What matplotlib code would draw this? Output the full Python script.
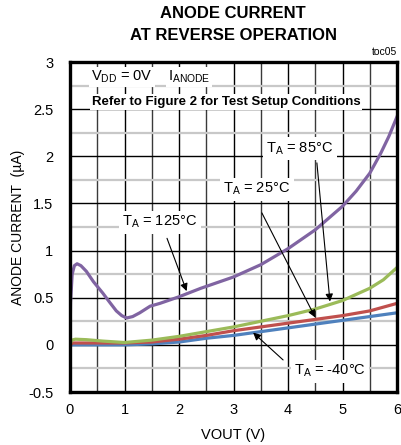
import matplotlib
matplotlib.use("Agg")
import matplotlib.pyplot as plt

plt.rcParams['font.family'] = ['Liberation Sans', 'DejaVu Sans']

# Anode current vs output voltage, one curve per ambient temperature
v_125 = [0, 0.01, 0.04, 0.08, 0.13, 0.2, 0.3, 0.43, 0.6, 0.73, 0.85, 0.95, 1.04, 1.15,
         1.28, 1.47, 1.65, 2.0, 2.4, 3.0, 3.5, 4.0, 4.5, 5.0, 5.25, 5.5, 5.7, 5.85, 6.0]
i_125 = [0, 0.45, 0.75, 0.84, 0.86, 0.84, 0.78, 0.67, 0.55, 0.45, 0.36, 0.31, 0.285, 0.30,
         0.34, 0.41, 0.44, 0.51, 0.60, 0.72, 0.85, 1.02, 1.22, 1.47, 1.63, 1.82, 2.03, 2.21, 2.42]

v_85 = [0, 0.03, 0.1, 0.3, 0.6, 1.0, 1.5, 2.0, 2.5, 3.0, 3.5, 4.0, 4.5, 5.0, 5.5, 5.75, 6.0]
i_85 = [0, 0.05, 0.06, 0.055, 0.04, 0.025, 0.05, 0.09, 0.14, 0.19, 0.25, 0.31, 0.38, 0.47,
        0.60, 0.69, 0.82]

v_25 = [0, 0.05, 0.5, 1.0, 1.5, 2.0, 2.5, 3.0, 3.5, 4.0, 4.5, 5.0, 5.5, 6.0]
i_25 = [0, 0.02, 0.02, 0.02, 0.03, 0.06, 0.10, 0.15, 0.19, 0.23, 0.27, 0.31, 0.36, 0.44]

v_m40 = [0, 0.5, 1.0, 1.5, 2.0, 2.5, 3.0, 3.5, 4.0, 4.5, 5.0, 5.5, 6.0]
i_m40 = [0, 0.0, 0.0, 0.01, 0.03, 0.07, 0.10, 0.14, 0.18, 0.22, 0.26, 0.30, 0.34]

x_ticks = [0, 1, 2, 3, 4, 5, 6]
y_ticks = [-0.5, 0, 0.5, 1, 1.5, 2, 2.5, 3]
y_tick_labels = ['-0.5', '0', '0.5', '1', '1.5', '2', '2.5', '3']

fig = plt.figure(figsize=(4.01, 4.45), dpi=100)
ax = fig.add_axes([70 / 401, 53 / 445, 327 / 401, 330 / 445])

ax.set_xlim(0, 6)
ax.set_ylim(-0.5, 3)

# grid: black verticals every 0.5 V, black/gray horizontals every 0.25 uA
for gx in [0.5 * k for k in range(1, 12)]:
    ax.axvline(gx, color='black' if gx == int(gx) else '#3a3a3a', lw=1.0, zorder=1)
for k in range(-1, 12):
    gy = 0.25 * k
    if k % 2 == 0:
        ax.axhline(gy, color='black', lw=1.0, zorder=1)
    else:
        ax.axhline(gy, color='#c8c8c8', lw=1.6, zorder=1)

lw = 2.3
ax.plot(v_m40, i_m40, color='#4F81BD', lw=lw, zorder=3, solid_joinstyle='round')
ax.plot(v_25, i_25, color='#C0504D', lw=lw, zorder=4, solid_joinstyle='round')
ax.plot(v_85, i_85, color='#9BBB59', lw=lw, zorder=5, solid_joinstyle='round')
ax.plot(v_125, i_125, color='#8064A2', lw=lw, zorder=6, solid_joinstyle='round')

ax.set_xticks(x_ticks)
ax.set_xticklabels([str(t) for t in x_ticks])
ax.set_yticks(y_ticks)
ax.set_yticklabels(y_tick_labels)
ax.tick_params(length=0, labelsize=10.5)
ax.tick_params(axis='y', pad=12)
ax.tick_params(axis='x', pad=8)
for s in ax.spines.values():
    s.set_linewidth(2.4)
    s.set_color('black')
    s.set_zorder(10)

ax.set_xlabel('VOUT (V)', fontsize=10.5, va='center')
ax.xaxis.set_label_coords(0.5, (392 - 435) / 330)
ax.set_ylabel('ANODE CURRENT  (µA)', fontsize=10, va='center')
ax.yaxis.set_label_coords((18 - 70) / 327, 0.5)

fig.text(233 / 401, 1 - 13 / 445, 'ANODE CURRENT', ha='center', va='center',
         fontsize=12, fontweight='bold')
fig.text(233 / 401, 1 - 36 / 445, 'AT REVERSE OPERATION', ha='center', va='center',
         fontsize=12, fontweight='bold')
fig.text(397 / 401, 1 - 52 / 445, 'toc05', ha='right', va='center', fontsize=7.5)

box = dict(facecolor='white', edgecolor='none', pad=1.5)
ax.text(0.064, 0.955, r'$\mathregular{V_{DD}}$ = 0V', transform=ax.transAxes,
        ha='left', va='center', fontsize=10.5, bbox=box, zorder=8)
ax.text(0.30, 0.955, r'$\mathregular{I_{ANODE}}$', transform=ax.transAxes,
        ha='left', va='center', fontsize=10.5, bbox=box, zorder=8)
ax.text(0.477, 0.879, 'Refer to Figure 2 for Test Setup Conditions', transform=ax.transAxes,
        ha='center', va='center', fontsize=9.5, fontweight='bold', bbox=box, zorder=8)

arrow = dict(arrowstyle='-|>', color='black', lw=0.8, mutation_scale=11,
             shrinkA=0, shrinkB=0)
labels = [
    (r'$\mathregular{T_A}$ = 125°C', (1.65, 1.30), (1.78, 1.13), (2.14, 0.57)),
    (r'$\mathregular{T_A}$ = 85°C', (4.22, 2.08), (4.53, 1.93), (4.77, 0.46)),
    (r'$\mathregular{T_A}$ = 25°C', (3.43, 1.65), (3.52, 1.40), (4.50, 0.29)),
    (r'$\mathregular{T_A}$ = -40°C', (4.77, -0.28), (3.91, -0.16), (3.36, 0.13)),
]
for txt, pos, start, tip in labels:
    ax.text(pos[0], pos[1], txt, ha='center', va='center', fontsize=10.5,
            bbox=dict(facecolor='white', edgecolor='none', pad=2.5), zorder=8)
    ax.annotate('', xy=tip, xytext=start, arrowprops=arrow, zorder=9)

fig.savefig('out.png', dpi=100)
